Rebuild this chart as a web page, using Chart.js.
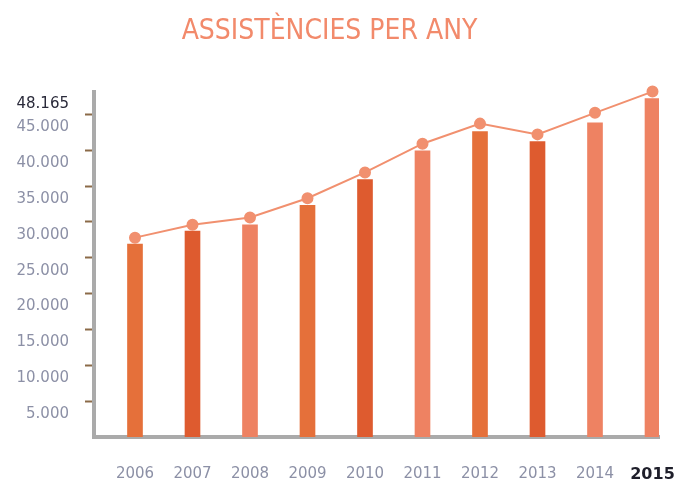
<!DOCTYPE html>
<html>
<head>
<meta charset="utf-8">
<script src="https://cdn.jsdelivr.net/npm/chart.js@4"></script>
<style>
    body { margin: 0; background: #fff; }
    #wrap { width: 677px; height: 483px; }
</style>
</head>
<body>
<div id="wrap"><canvas id="assistencies"></canvas></div>
<script>
// valors llegits del gràfic
const years = [2006, 2007, 2008, 2009, 2010, 2011, 2012, 2013, 2014, 2015];
const barValues = [26900, 28700, 29600, 32300, 35900, 39900, 42600, 41200, 43800, 47200];
const lineValues = [27800, 29600, 30600, 33300, 36900, 40900, 43700, 42200, 45200, 48165];
const yTicks = [5000, 10000, 15000, 20000, 25000, 30000, 35000, 40000, 45000, 48165];
const yMax = 48165;

const barColors = ["#E5703A", "#DE5B2F", "#EE8262", "#E5703A", "#DE5B2F", "#EE8262", "#E5703A", "#DE5B2F", "#EE8262", "#EE8262"];

function formatNumber(v) {
    return String(v).replace(/\B(?=(\d{3})+(?!\d))/g, ".");
}

const tickIs = (ctx, v) => ctx.tick && ctx.tick.value === v;

let chart = new Chart(document.getElementById("assistencies"), {
    type: 'bar',
    data: {
        labels: years,
        datasets: [
            {
                type: 'line',
                data: lineValues,
                borderColor: "#F1906F",
                backgroundColor: "#F1906F",
                borderWidth: 2,
                pointRadius: 5,
                pointHoverRadius: 5,
                clip: false,
                order: 0
            },
            {
                data: barValues,
                backgroundColor: barColors,
                barThickness: 15,
                order: 1
            }
        ]
    },
    options: {
        responsive: true,
        maintainAspectRatio: false,
        animation: false,
        layout: { padding: { left: 0, right: 18, top: 0, bottom: 0 } },
        plugins: {
            legend: { display: false },
            tooltip: { enabled: false },
            title: {
                display: true,
                text: 'ASSISTÈNCIES PER ANY',
                color: '#F28A6B',
                font: { family: '"DejaVu Sans Condensed", "Liberation Sans Narrow", sans-serif', size: 28, weight: 'normal' },
                padding: { top: 15, bottom: 43 }
            }
        },
        scales: {
            x: {
                type: 'linear',
                offset: false,
                min: 2005.287,
                max: 2015.113,
                afterBuildTicks: axis => { axis.ticks = years.map(v => ({ value: v })); },
                afterFit: axis => {
                    axis.height = 46;
                    axis.paddingLeft = 0;
                    axis.paddingRight = 0;
                },
                grid: { display: false, drawTicks: false },
                border: { color: '#AAAAAA', width: 4 },
                ticks: {
                    padding: 28,
                    callback: v => String(v),
                    color: ctx => tickIs(ctx, 2015) ? '#1E1E2A' : '#8C90A6',
                    font: ctx => tickIs(ctx, 2015)
                        ? { family: 'DejaVu Sans', size: 16, weight: 'bold' }
                        : { family: 'DejaVu Sans', size: 15 }
                }
            },
            y: {
                min: 0,
                max: yMax,
                afterBuildTicks: axis => { axis.ticks = yTicks.map(v => ({ value: v })); },
                afterFit: axis => { axis.width = 94; },
                grid: {
                    drawOnChartArea: false,
                    tickLength: 9,
                    tickWidth: 2,
                    tickColor: ctx => tickIs(ctx, yMax) ? 'rgba(0,0,0,0)' : '#8B6A48'
                },
                border: { color: '#AAAAAA', width: 4 },
                ticks: {
                    padding: 16,
                    labelOffset: 13,
                    callback: v => formatNumber(v),
                    color: ctx => tickIs(ctx, yMax) ? '#2A2A3A' : '#8C90A6',
                    font: { family: 'DejaVu Sans', size: 15 }
                }
            }
        }
    }
});
</script>
</body>
</html>
